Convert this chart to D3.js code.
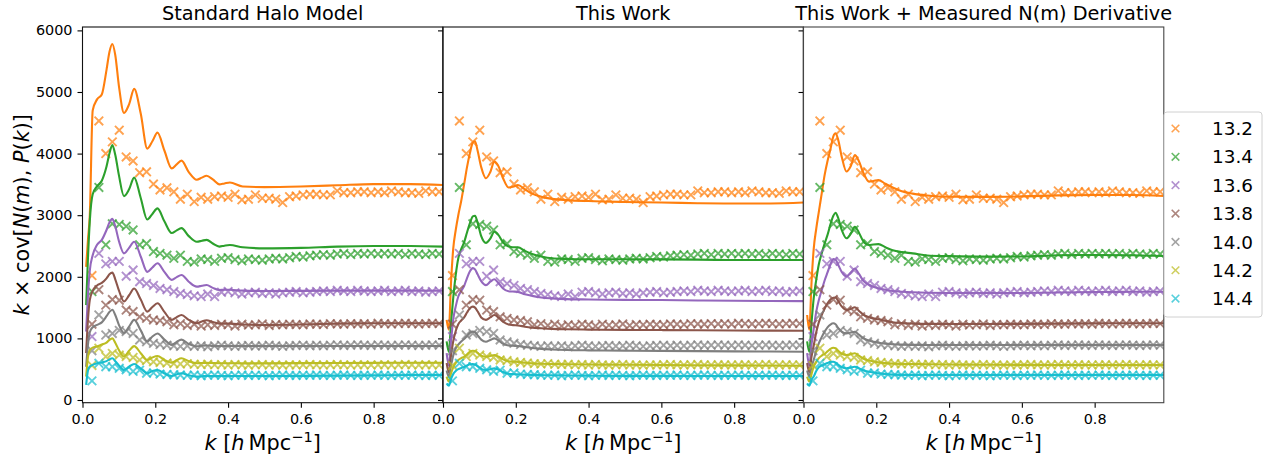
<!DOCTYPE html>
<html>
<head>
<meta charset="utf-8">
<script src="https://cdn.jsdelivr.net/npm/d3@7"></script>
<style>
  body { margin: 0; background: #fff; }
  svg { display: block; font-family: "DejaVu Sans", sans-serif; }
</style>
</head>
<body>
<svg id="chart" width="1274" height="459"></svg>
<script>
// ---- mass bins (log10 M) and colours ----
const massLabels = ["13.2", "13.4", "13.6", "13.8", "14.0", "14.2", "14.4"];
const massColors = ["#ff7f0e", "#2ca02c", "#9467bd", "#8c564b", "#7f7f7f", "#bcbd22", "#17becf"];
const panelTitles = ["Standard Halo Model", "This Work", "This Work + Measured N(m) Derivative"];
const xTicks = [0, 0.2, 0.4, 0.6, 0.8];
const yTicks = [0, 1000, 2000, 3000, 4000, 5000, 6000];

// ---- measured k x cov[N(m), P(k)] (crosses), shared by all panels ----
const kMeasured = [0.026, 0.045, 0.064, 0.082, 0.101, 0.120, 0.139, 0.157, 0.176, 0.195,
  0.213, 0.232, 0.251, 0.269, 0.288, 0.307, 0.326, 0.344, 0.363, 0.382,
  0.400, 0.419, 0.438, 0.456, 0.475, 0.494, 0.513, 0.531, 0.550, 0.569,
  0.587, 0.606, 0.625, 0.643, 0.662, 0.681, 0.700, 0.718, 0.737, 0.756,
  0.774, 0.793, 0.812, 0.830, 0.849, 0.868, 0.887, 0.905, 0.924, 0.943,
  0.961, 0.980];
const meas132 = [2020, 4530, 4000, 4190, 4380, 3945, 3880, 3690, 3705, 3505, 3410, 3445, 3380, 3260, 3340, 3220, 3290, 3260, 3300, 3310, 3290, 3340, 3250, 3260, 3330, 3275, 3275, 3260, 3205, 3300, 3310, 3330, 3340, 3340, 3330, 3330, 3395, 3365, 3365, 3380, 3380, 3365, 3380, 3365, 3395, 3380, 3365, 3365, 3355, 3395, 3380, 3380];
const meas134 = [1760, 3450, 2520, 2860, 2850, 2820, 2760, 2520, 2540, 2410, 2380, 2350, 2300, 2350, 2250, 2240, 2290, 2280, 2250, 2300, 2310, 2280, 2260, 2290, 2280, 2270, 2290, 2300, 2290, 2310, 2330, 2320, 2340, 2350, 2360, 2350, 2370, 2380, 2360, 2380, 2370, 2380, 2370, 2380, 2370, 2380, 2360, 2380, 2370, 2360, 2380, 2370];
const meas136 = [1030, 2380, 2210, 2250, 2250, 2010, 2110, 1920, 1890, 1860, 1810, 1790, 1760, 1730, 1710, 1690, 1680, 1720, 1680, 1750, 1760, 1740, 1720, 1740, 1750, 1730, 1740, 1720, 1740, 1750, 1760, 1740, 1750, 1760, 1770, 1760, 1780, 1770, 1760, 1780, 1770, 1760, 1770, 1780, 1760, 1770, 1780, 1760, 1770, 1750, 1760, 1770];
const meas138 = [1230, 1790, 1540, 1630, 1620, 1460, 1435, 1350, 1325, 1300, 1290, 1270, 1220, 1240, 1210, 1230, 1200, 1220, 1210, 1230, 1220, 1200, 1230, 1215, 1220, 1235, 1210, 1225, 1220, 1230, 1225, 1220, 1235, 1230, 1225, 1240, 1235, 1230, 1240, 1235, 1240, 1230, 1245, 1240, 1235, 1240, 1245, 1240, 1235, 1240, 1245, 1240];
const meas140 = [800, 1380, 1055, 1080, 1130, 1110, 1080, 975, 945, 920, 900, 890, 880, 870, 880, 870, 880, 865, 880, 890, 880, 870, 880, 885, 875, 880, 890, 880, 870, 880, 885, 890, 880, 890, 880, 890, 895, 885, 890, 895, 890, 885, 895, 890, 885, 890, 895, 890, 885, 890, 895, 890];
const meas142 = [560, 840, 705, 755, 730, 705, 690, 650, 640, 620, 610, 600, 590, 585, 590, 580, 575, 580, 570, 575, 568, 575, 570, 565, 570, 575, 568, 570, 565, 570, 568, 572, 575, 570, 568, 572, 575, 570, 568, 572, 570, 568, 570, 572, 568, 570, 575, 570, 568, 572, 570, 568];
const meas144 = [310, 595, 540, 540, 515, 490, 465, 485, 435, 440, 420, 415, 410, 405, 400, 405, 395, 400, 405, 400, 395, 400, 405, 398, 402, 400, 395, 400, 405, 400, 398, 402, 400, 405, 400, 398, 402, 405, 400, 398, 402, 400, 405, 400, 398, 402, 400, 405, 400, 398, 402, 400];

// ---- standard halo model predictions ----
const kModelSHM = [0.010, 0.015, 0.020, 0.028, 0.040, 0.053, 0.066, 0.074, 0.082, 0.090, 0.100, 0.114, 0.128, 0.142, 0.160, 0.178, 0.192, 0.206, 0.225, 0.245, 0.258, 0.272, 0.292, 0.314, 0.328, 0.341, 0.358, 0.376, 0.390, 0.405, 0.440, 0.500, 0.600, 0.700, 0.800, 0.900, 0.990];
const shm132 = [2160, 2600, 3000, 4700, 4880, 4960, 5360, 5650, 5780, 5600, 5100, 4660, 4800, 5050, 4650, 4080, 4200, 4340, 4050, 3760, 3820, 3885, 3700, 3575, 3610, 3640, 3580, 3500, 3515, 3530, 3465, 3455, 3465, 3485, 3505, 3505, 3490];
const shm134 = [1540, 2300, 2900, 3340, 3470, 3560, 3790, 4000, 4140, 3980, 3650, 3310, 3420, 3610, 3280, 2930, 3020, 3110, 2900, 2710, 2750, 2790, 2660, 2570, 2585, 2600, 2540, 2490, 2505, 2515, 2480, 2462, 2470, 2490, 2500, 2500, 2490];
const shm136 = [1110, 1700, 2100, 2350, 2520, 2600, 2760, 2880, 2940, 2820, 2580, 2380, 2470, 2570, 2330, 2080, 2150, 2220, 2080, 1950, 1990, 2030, 1920, 1840, 1855, 1867, 1820, 1786, 1790, 1790, 1775, 1770, 1772, 1775, 1776, 1776, 1774];
const shm138 = [760, 1300, 1620, 1770, 1860, 1900, 1975, 2040, 2067, 1960, 1780, 1600, 1700, 1810, 1630, 1435, 1510, 1570, 1430, 1300, 1340, 1380, 1300, 1245, 1275, 1295, 1265, 1240, 1240, 1240, 1225, 1218, 1225, 1240, 1245, 1245, 1245];
const shm140 = [540, 900, 1100, 1180, 1220, 1260, 1360, 1430, 1465, 1380, 1220, 1090, 1190, 1300, 1130, 950, 1030, 1080, 980, 893, 940, 980, 910, 870, 880, 885, 878, 875, 876, 876, 876, 876, 876, 876, 876, 876, 876];
const shm142 = [380, 700, 810, 850, 870, 900, 930, 975, 1000, 930, 810, 705, 800, 875, 760, 650, 690, 714, 650, 605, 645, 677, 630, 597, 600, 603, 600, 597, 596, 596, 595, 595, 598, 600, 603, 605, 605];
const shm144 = [245, 480, 545, 570, 595, 610, 630, 660, 677, 630, 560, 487, 540, 584, 510, 433, 470, 487, 430, 390, 415, 433, 400, 380, 385, 390, 388, 388, 389, 390, 390, 390, 392, 395, 400, 405, 406];

// ---- this work (with and without the measured N(m) derivative) ----
const kModelTW = [0.010, 0.016, 0.022, 0.028, 0.035, 0.042, 0.050, 0.058, 0.066, 0.074, 0.082, 0.088, 0.095, 0.105, 0.118, 0.130, 0.141, 0.152, 0.165, 0.180, 0.192, 0.206, 0.225, 0.245, 0.270, 0.300, 0.340, 0.400, 0.500, 0.600, 0.700, 0.800, 0.900, 0.990];
const tw132 = [1300, 1140, 1900, 2450, 2760, 3000, 3230, 3500, 3780, 4010, 4180, 4200, 4050, 3780, 3600, 3700, 3870, 3800, 3600, 3450, 3460, 3490, 3420, 3350, 3300, 3265, 3245, 3230, 3215, 3205, 3195, 3190, 3190, 3205];
const tw134 = [950, 780, 1250, 1650, 2030, 2300, 2450, 2560, 2720, 2870, 2980, 2990, 2880, 2660, 2550, 2620, 2730, 2680, 2560, 2490, 2480, 2480, 2420, 2370, 2330, 2300, 2290, 2284, 2284, 2282, 2278, 2273, 2273, 2273];
const tw136 = [760, 560, 950, 1300, 1520, 1680, 1770, 1850, 1980, 2090, 2140, 2120, 2040, 1930, 1865, 1920, 1960, 1900, 1810, 1765, 1760, 1755, 1715, 1690, 1665, 1650, 1638, 1632, 1625, 1622, 1615, 1610, 1607, 1605];
const tw138 = [600, 450, 720, 950, 1120, 1230, 1290, 1340, 1420, 1490, 1515, 1500, 1440, 1340, 1300, 1340, 1380, 1340, 1270, 1225, 1215, 1210, 1190, 1175, 1165, 1155, 1148, 1143, 1138, 1135, 1132, 1128, 1126, 1125];
const tw140 = [480, 380, 560, 720, 840, 900, 950, 990, 1040, 1090, 1110, 1100, 1050, 980, 946, 975, 1000, 970, 910, 885, 880, 876, 860, 845, 830, 820, 812, 806, 801, 798, 794, 790, 787, 784];
const tw142 = [380, 300, 430, 530, 600, 650, 680, 700, 740, 785, 800, 795, 765, 720, 703, 715, 730, 705, 660, 630, 622, 618, 605, 595, 588, 584, 580, 576, 572, 568, 565, 562, 559, 557];
const tw144 = [270, 230, 340, 420, 470, 500, 520, 535, 560, 580, 584, 575, 550, 505, 487, 500, 514, 495, 455, 425, 420, 418, 412, 407, 403, 401, 398, 395, 392, 391, 390, 390, 390, 390];
const twd132 = [1380, 1140, 1900, 2450, 2780, 3050, 3350, 3650, 3880, 4070, 4280, 4330, 4230, 3950, 3710, 3800, 3975, 3880, 3680, 3545, 3555, 3570, 3510, 3450, 3390, 3350, 3320, 3300, 3298, 3305, 3322, 3328, 3328, 3311];
const twd134 = [950, 780, 1250, 1650, 1950, 2200, 2380, 2540, 2680, 2850, 2990, 3040, 2960, 2760, 2625, 2700, 2810, 2720, 2570, 2515, 2525, 2530, 2480, 2430, 2400, 2380, 2345, 2335, 2327, 2330, 2350, 2354, 2350, 2338];
const twd136 = [760, 560, 900, 1150, 1430, 1620, 1780, 1940, 2070, 2200, 2290, 2280, 2200, 2080, 2005, 2070, 2135, 2050, 1930, 1870, 1840, 1815, 1790, 1770, 1758, 1748, 1740, 1737, 1737, 1738, 1745, 1752, 1756, 1758];
const twd138 = [600, 450, 700, 880, 1100, 1260, 1380, 1480, 1570, 1630, 1660, 1665, 1610, 1520, 1462, 1480, 1505, 1450, 1380, 1345, 1325, 1310, 1285, 1262, 1248, 1240, 1235, 1234, 1234, 1236, 1240, 1244, 1245, 1245];
const twd140 = [480, 380, 540, 650, 800, 920, 1020, 1110, 1180, 1225, 1245, 1230, 1170, 1110, 1082, 1095, 1108, 1060, 1000, 965, 945, 930, 915, 905, 898, 895, 893, 892, 892, 892, 892, 893, 893, 893];
const twd142 = [380, 300, 420, 540, 620, 680, 720, 750, 790, 830, 849, 840, 800, 750, 730, 742, 758, 720, 670, 640, 625, 610, 598, 590, 586, 584, 580, 576, 572, 570, 568, 568, 568, 568];
const twd144 = [270, 230, 330, 380, 470, 530, 560, 580, 600, 618, 620, 605, 575, 530, 514, 528, 540, 515, 480, 458, 445, 432, 420, 412, 408, 406, 406, 406, 406, 406, 406, 406, 406, 406];

// ---- assemble per-panel tables ----
const measured = [meas132, meas134, meas136, meas138, meas140, meas142, meas144];
const panels = [
  { title: panelTitles[0], kModel: kModelSHM, model: [shm132, shm134, shm136, shm138, shm140, shm142, shm144] },
  { title: panelTitles[1], kModel: kModelTW, model: [tw132, tw134, tw136, tw138, tw140, tw142, tw144] },
  { title: panelTitles[2], kModel: kModelTW, model: [twd132, twd134, twd136, twd138, twd140, twd142, twd144] }
];

// ---- layout ----
const svg = d3.select("#chart");
const plotTop = 27, plotBottom = 402.7;
const panelLeft = [82.5, 443.0, 803.5];
const panelWidth = 360.3;
const tickFont = 14.4, titleFont = 19.3, labelFont = 20.8;

const y = d3.scaleLinear().domain([-44, 6055]).range([plotBottom, plotTop]);
const crossR = 4.3;
const crossPath = (r) => `M${-r},${-r}L${r},${r}M${-r},${r}L${r},${-r}`;

panels.forEach((p, i) => {
  const x0 = panelLeft[i], x1 = x0 + panelWidth;
  const x = d3.scaleLinear().domain([0, 0.99]).range([x0, x1]);
  const g = svg.append("g");

  const clipId = "clip" + i;
  svg.append("clipPath").attr("id", clipId)
    .append("rect").attr("x", x0).attr("y", plotTop)
    .attr("width", panelWidth).attr("height", plotBottom - plotTop);

  const plot = g.append("g").attr("clip-path", `url(#${clipId})`);
  const line = d3.line().x(d => x(d[0])).y(d => y(d[1])).curve(d3.curveMonotoneX);

  massLabels.forEach((m, j) => {
    const pts = kMeasured.map((k, n) => [k, measured[j][n]]);
    plot.append("g")
      .selectAll("path")
      .data(pts)
      .join("path")
      .attr("d", crossPath(crossR))
      .attr("transform", d => `translate(${x(d[0])},${y(d[1])})`)
      .attr("fill", "none")
      .attr("stroke", massColors[j])
      .attr("stroke-opacity", 0.72)
      .attr("stroke-width", 1.9);

    const curve = p.kModel.map((k, n) => [k, p.model[j][n]]);
    plot.append("path")
      .datum(curve)
      .attr("d", line)
      .attr("fill", "none")
      .attr("stroke", massColors[j])
      .attr("stroke-width", 2.1)
      .attr("stroke-linejoin", "round");
  });

  // x axis
  const xAxis = g.append("g")
    .attr("transform", `translate(0,${plotBottom})`)
    .call(d3.axisBottom(x).tickValues(xTicks).tickFormat(d3.format(".1f"))
      .tickSize(5).tickSizeOuter(0).tickPadding(6));
  xAxis.select(".domain").remove();
  xAxis.selectAll("text").attr("font-size", tickFont).attr("font-family", "DejaVu Sans").attr("fill", "#000");
  xAxis.selectAll("line").attr("stroke", "#000").attr("stroke-width", 1.1);

  // y axis (labels only on the first panel)
  const yAxis = g.append("g")
    .attr("transform", `translate(${x0},0)`)
    .call(d3.axisLeft(y).tickValues(yTicks).tickFormat(i === 0 ? d3.format("d") : () => "")
      .tickSize(5).tickSizeOuter(0).tickPadding(5));
  yAxis.select(".domain").remove();
  yAxis.selectAll("text").attr("font-size", tickFont).attr("font-family", "DejaVu Sans").attr("fill", "#000");
  yAxis.selectAll("line").attr("stroke", "#000").attr("stroke-width", 1.1);

  // frame
  g.append("rect")
    .attr("x", x0).attr("y", plotTop)
    .attr("width", panelWidth).attr("height", plotBottom - plotTop)
    .attr("fill", "none").attr("stroke", i === 2 ? "#444" : "#111").attr("stroke-width", 1.1);

  // title
  g.append("text")
    .attr("x", (x0 + x1) / 2).attr("y", 19.5)
    .attr("text-anchor", "middle")
    .attr("font-size", titleFont)
    .attr("fill", "#000")
    .text(p.title);

  // x label: k [h Mpc^-1]
  const xl = g.append("text")
    .attr("x", (x0 + x1) / 2).attr("y", 450)
    .attr("text-anchor", "middle")
    .attr("font-size", labelFont)
    .attr("fill", "#000");
  xl.append("tspan").attr("font-style", "italic").text("k");
  xl.append("tspan").text(" [");
  xl.append("tspan").attr("font-style", "italic").text("h");
  xl.append("tspan").text("\u2009Mpc");
  xl.append("tspan").attr("font-size", labelFont * 0.7).attr("dy", -8).text("\u22121");
  xl.append("tspan").attr("dy", 8).text("]");
});

// y label: k x cov[N(m), P(k)]
const yl = svg.append("text")
  .attr("transform", `translate(29,${(plotTop + plotBottom) / 2}) rotate(-90)`)
  .attr("text-anchor", "middle")
  .attr("font-size", labelFont)
  .attr("fill", "#000");
[["k", true], [" \u00d7 cov[", false], ["N", true], ["(", false], ["m", true], ["), ", false],
 ["P", true], ["(", false], ["k", true], [")]", false]].forEach(([t, it]) => {
  const s = yl.append("tspan").text(t);
  if (it) s.attr("font-style", "italic");
});

// legend
const legX = 1164, legY = 112, legW = 98, legH = 205, rowH = 28.35;
const leg = svg.append("g");
leg.append("rect")
  .attr("x", legX).attr("y", legY).attr("width", legW).attr("height", legH)
  .attr("rx", 3).attr("fill", "#fff").attr("fill-opacity", 0.8)
  .attr("stroke", "#d0d0d0").attr("stroke-width", 1);
massLabels.forEach((m, j) => {
  const cy = legY + 16.5 + j * rowH;
  leg.append("path")
    .attr("d", crossPath(3.8))
    .attr("transform", `translate(1175.5,${cy})`)
    .attr("fill", "none").attr("stroke", massColors[j])
    .attr("stroke-opacity", 0.72).attr("stroke-width", 1.6);
  leg.append("text")
    .attr("x", 1253).attr("y", cy)
    .attr("dy", "0.36em")
    .attr("text-anchor", "end")
    .attr("font-size", 18.4)
    .attr("fill", "#000")
    .text(m);
});
</script>
</body>
</html>
